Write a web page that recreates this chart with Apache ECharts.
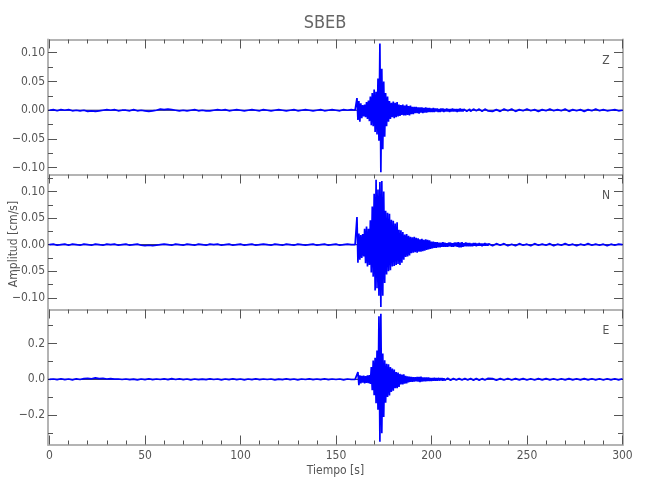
<!DOCTYPE html>
<html><head><meta charset="utf-8">
<script src="https://cdn.jsdelivr.net/npm/echarts@6/dist/echarts.min.js"></script>
<style>html,body{margin:0;padding:0;background:#fff}#c{width:650px;height:500px}</style>
</head><body><div id="c"></div>
<script>
// amplitudes in units of 0.001 cm/s
const UNIT = 0.001;
const PRE_T0 = 0, PRE_DT = 2;      // 0 .. 158 s
const EVT_T0 = 160, EVT_DT = 0.5;  // 160 .. 229.5 s
const POST_T0 = 230, POST_DT = 2;  // 230 .. 300 s

const zPre = [0,1,-1,1,0,1,-1,0,-1,0, -2,-1,-2,-1,0,1,0,1,-1,0, 0,-1,1,-1,0,-1,-2,-1,0,2, 1,2,1,0,-1,0,-1,0,1,-1, 0,-1,-1,0,1,0,1,-1,0,1, 0,-1,0,1,0,-1,1,0,-1,0, 1,0,-1,0,1,-1,0,1,0,-1, 0,1,-1,0,1,0,-1,1,0,1];
const zEvt = [0,-1,21,-17,16,-20,12,-14,9,-11, 10,-12,14,-15,17,-19,24,-26,30,-28,
  36,-38,32,-42,55,-53,116,-108,72,-68, 50,-46,30,-28,24,-20,16,-15,13,-12,
  15,-14,13,-12,14,-11,10,-10,9,-8, 10,-9,8,-9,10,-8,7,-9,8,-7,
  6,-7,6,-5,6,-5,5,-6,5,-4, 5,-5,4,-4,5,-4,4,-3,4,-3,
  3,-3,4,-3,3,-2,3,-3,2,-3, 3,-2,3,-3,2,-2,3,-2,2,-3,
  2,-2,3,-2,2,-2,2,-3,2,-2, 3,-2,2,-2,2,-1,2,-2,1,-2,
  2,-2,1,-2,2,-1,2,-1,1,-2, 2,-1,1,-2,1,-1,2,-1,1,-1];
const zPost = [2,-2,1,-2,2,-1,2,-2,1,-1,2,-1,1,-2,1,-1,2,-1,1,-1,2,-2,1,-1,1,-2,1,-1,2,-1,1,-1,0,1,-1,0];

const nPre = [0,1,-1,0,1,-1,1,0,-1,1, 0,-1,1,0,-1,1,0,1,-1,0, 1,-1,0,1,-1,-2,-1,-2,-1,0, 1,0,-1,1,0,-1,1,0,-1,1, 0,-1,1,0,1,-1,0,1,-1,0, 1,-1,0,1,-1,0,1,0,-1,1, 0,-1,1,0,-1,1,0,-1,0,1, -1,0,1,-1,0,1,-1,0,1,0];
const nEvt = [0,2,52,-34,21,-28,18,-25,20,-22, 30,-35,34,-41,30,-38,46,-52,72,-60,
  96,-86,122,-82,104,-96,118,-117,120,-96, 100,-72,64,-56,60,-50,58,-48,47,-41,
  45,-40,40,-38,42,-36,28,-38,27,-34, 24,-28,19,-23,20,-22,17,-20,15,-16,
  14,-15,15,-14,13,-15,12,-13,10,-13, 11,-12,9,-11,10,-10,9,-9,8,-8,
  6,-7,6,-6,5,-6,5,-5,4,-5, 4,-4,5,-4,4,-4,3,-4,4,-3,
  4,-4,3,-4,4,-3,4,-4,5,-5, 4,-5,5,-4,3,-3,4,-3,3,-3,
  3,-3,2,-3,3,-2,3,-3,2,-2, 3,-2,2,-3,2,-2,3,-2,2,-2];
const nPost = [2,-2,2,-1,2,-2,1,-2,2,-1,1,-2,2,-1,1,-1,2,-2,1,-1,2,-1,1,-2,1,-1,2,-1,1,-1,1,-2,1,-1,1,0];

const ePre = [0,2,-2,3,-2,2,-3,3,-1,4, 6,3,8,4,6,2,4,1,2,-1, 2,-2,1,-3,2,-2,3,-2,2,-1, 3,-2,4,-1,3,-2,2,-3,2,-2, 1,-2,3,-1,2,-3,2,-2,3,-2, 2,-3,2,-2,3,-2,2,-1,2,-3, 1,-2,3,-2,2,-3,2,-1,3,-2, 2,-2,3,-2,2,-1,2,-3,2,-1];
const eEvt = [0,1,-2,40,-33,22,-22,20,-18,21, -22,18,-20,22,-21,24,-25,68,-61,105,
  -89,120,-133,160,-170,352,-348,365,-300,144, -210,106,-130,87,-98,84,-90,68,-70,60,
  -64,55,-50,40,-50,38,-42,30,-28,26, -28,28,-24,20,-22,16,-17,15,-14,13,
  -14,12,-13,12,-11,13,-12,14,-15,15, -13,11,-11,10,-11,10,-9,10,-9,8,
  -9,8,-8,9,-8,7,-8,8,-7,7, -6,7,-7,6,-6,5,-6,6,-5,5,
  -5,4,-5,5,-4,5,-4,4,-5,4, -4,5,-4,4,-4,5,-5,4,-4,4,
  -4,5,-4,4,-5,4,-4,5,-4,4, -5,4,-4,4,-5,5,-4,4,-4,5];
const ePost = [-4,4,-5,4,-4,5,-4,4,-3,4,-4,3,-4,4,-3,4,-3,3,-4,3,-3,4,-3,3,-3,4,-3,3,-3,3,-4,3,-3,3,-3,3];

const components = ['Z','N','E'];
const traces = [[zPre,zEvt,zPost],[nPre,nEvt,nPost],[ePre,eEvt,ePost]];

const xMajor = [0,50,100,150,200,250,300];
const xMinor = [10,20,30,40,60,70,80,90,110,120,130,140,160,170,180,190,210,220,230,240,260,270,280,290];
const xRange = [-0.8, 300.3];

const yMajor = [[-0.10,-0.05,0,0.05,0.10],[-0.10,-0.05,0,0.05,0.10],[-0.2,0,0.2]];
const yMinor = [[-0.075,-0.025,0.025,0.075],[-0.075,-0.025,0.025,0.075,0.125],[-0.3,-0.1,0.1,0.3]];
const yDecimals = [2,2,1];
const yRange = [[-0.1118,0.123],[-0.1218,0.132],[-0.363,0.389]];

const FONT = "'Liberation Sans Narrow','DejaVu Sans Condensed','Roboto Condensed',sans-serif";
const FRAME = '#b4b4b4', TICK = '#555', TXT = '#555';

const grids = [], xAxes = [], yAxes = [], series = [];
const tops = [39.5, 174.5, 309.5];
for (let i = 0; i < 3; i++) {
  grids.push({left: 48, width: 575, top: tops[i], height: 135});
  const last = i === 2;
  const base = {gridIndex: i, type: 'value', min: xRange[0], max: xRange[1], splitLine: {show: false}};
  xAxes.push(Object.assign({}, base, {position: 'bottom',
    axisLine: {show: true, onZero: false, lineStyle: {color: FRAME, width: 2}},
    axisTick: {show: last, inside: true, length: 9, customValues: xMajor, lineStyle: {color: TICK, width: 1}},
    axisLabel: {show: last, customValues: xMajor, color: TXT, fontSize: 12, fontFamily: FONT, margin: 5}}));
  xAxes.push(Object.assign({}, base, {position: 'bottom',
    axisLine: {show: false, onZero: false},
    axisTick: {show: last, inside: true, length: 4, customValues: xMinor, lineStyle: {color: TICK, width: 1}},
    axisLabel: {show: false}}));
  xAxes.push(Object.assign({}, base, {position: 'top',
    axisLine: {show: true, onZero: false, lineStyle: {color: FRAME, width: 2}},
    axisTick: {show: true, inside: true, length: 9, customValues: xMajor, lineStyle: {color: TICK, width: 1}},
    axisLabel: {show: false}}));
  xAxes.push(Object.assign({}, base, {position: 'top',
    axisLine: {show: false, onZero: false},
    axisTick: {show: true, inside: true, length: 4, customValues: xMinor, lineStyle: {color: TICK, width: 1}},
    axisLabel: {show: false}}));

  const ybase = {gridIndex: i, type: 'value', min: yRange[i][0], max: yRange[i][1], splitLine: {show: false}};
  const dec = yDecimals[i];
  yAxes.push(Object.assign({}, ybase, {position: 'left',
    axisLine: {show: true, onZero: false, lineStyle: {color: FRAME, width: 2}},
    axisTick: {show: true, inside: true, length: 9, customValues: yMajor[i], lineStyle: {color: TICK, width: 1}},
    axisLabel: {show: true, customValues: yMajor[i], color: TXT, fontSize: 12, fontFamily: FONT, margin: 3,
      formatter: v => { const s = Math.abs(v).toFixed(dec); return (v < -1e-9 ? '\u2212' : '') + s; }}}));
  yAxes.push(Object.assign({}, ybase, {position: 'left',
    axisLine: {show: false, onZero: false},
    axisTick: {show: true, inside: true, length: 5, customValues: yMinor[i], lineStyle: {color: TICK, width: 1}},
    axisLabel: {show: false}}));
  yAxes.push(Object.assign({}, ybase, {position: 'right',
    axisLine: {show: true, onZero: false, lineStyle: {color: FRAME, width: 2}},
    axisTick: {show: true, inside: true, length: 9, customValues: yMajor[i], lineStyle: {color: TICK, width: 1}},
    axisLabel: {show: false}}));
  yAxes.push(Object.assign({}, ybase, {position: 'right',
    axisLine: {show: false, onZero: false},
    axisTick: {show: true, inside: true, length: 5, customValues: yMinor[i], lineStyle: {color: TICK, width: 1}},
    axisLabel: {show: false}}));

  // zero reference line, under the trace
  series.push({type: 'line', xAxisIndex: i * 4, yAxisIndex: i * 4, data: [[xRange[0], 0], [xRange[1], 0]],
    symbol: 'none', lineStyle: {color: '#10104a', width: 1}, silent: true, z: 2});

  const [pre, evt, post] = traces[i];
  const data = [];
  pre.forEach((v, k) => data.push([PRE_T0 + k * PRE_DT, v * UNIT]));
  evt.forEach((v, k) => data.push([EVT_T0 + k * EVT_DT, v * UNIT]));
  post.forEach((v, k) => data.push([POST_T0 + k * POST_DT, v * UNIT]));
  series.push({type: 'line', name: components[i], xAxisIndex: i * 4, yAxisIndex: i * 4, data: data,
    symbol: 'none', showSymbol: false, lineStyle: {color: '#0000ff', width: 1.7}, silent: true, z: 3});
}

const graphics = [
  {type: 'text', left: 'center', top: 14, style: {text: 'SBEB', fill: '#666', font: "18px " + FONT}},
  {type: 'text', x: 335.5, y: 471, style: {text: 'Tiempo [s]', fill: TXT, font: "12px " + FONT, textAlign: 'center', textVerticalAlign: 'middle'}},
  {type: 'text', x: 14, y: 244, rotation: Math.PI / 2, style: {text: 'Amplitud [cm/s]', fill: TXT, font: "12px " + FONT, textAlign: 'center', textVerticalAlign: 'middle'}}
];
const labelY = [61, 196, 331];
components.forEach((c, i) => graphics.push({type: 'text', x: 606, y: labelY[i],
  style: {text: c, fill: TXT, font: "12px " + FONT, textAlign: 'center', textVerticalAlign: 'middle'}}));

const chart = echarts.init(document.getElementById('c'), null, {renderer: 'canvas'});
chart.setOption({
  animation: false,
  backgroundColor: '#fff',
  grid: grids, xAxis: xAxes, yAxis: yAxes, series: series, graphic: graphics
});
</script></body></html>
